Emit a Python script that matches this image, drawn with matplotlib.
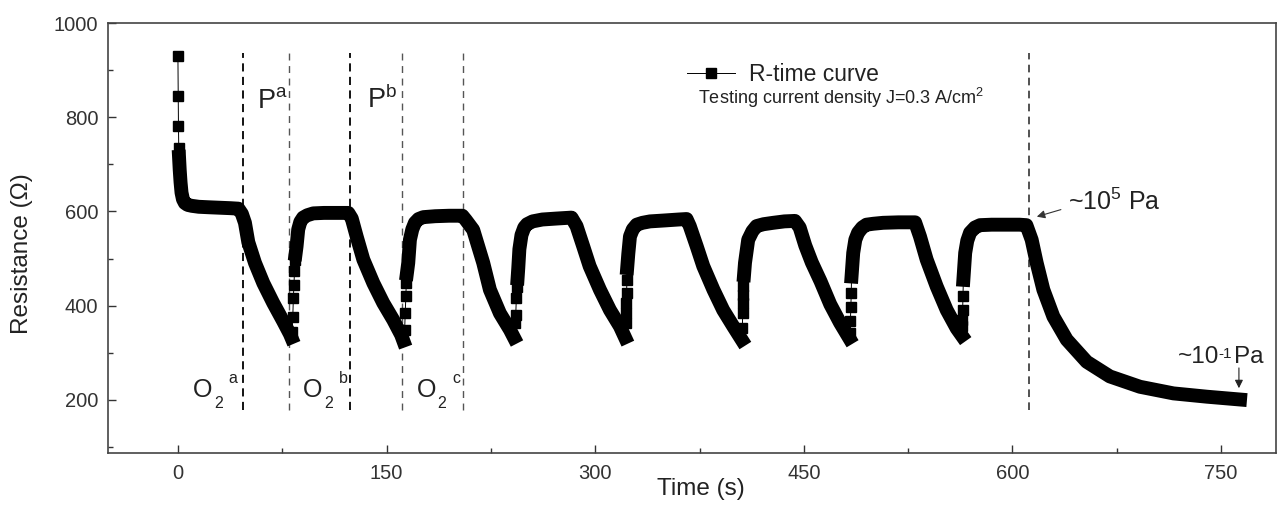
import numpy as np
import matplotlib.pyplot as plt
from matplotlib.ticker import MultipleLocator

plt.rcParams['font.family'] = 'Liberation Sans'
plt.rcParams['mathtext.default'] = 'regular'

# first isolated points right after switching on
start_t = [0.0, 0.2, 0.4, 0.6]
start_r = [930, 845, 782, 735]

# continuous parts of the trace: recovery, plateau and decay of each cycle
band_t = [
    [0.8, 1.3, 1.9, 2.6, 3.6, 5, 7, 10, 15, 22, 30, 38, 43.5,
     46, 48.2, 50.6, 55.4, 61.4, 68.5, 75.7, 80.5, 81.5],
    [84.6, 85.3, 86.5, 88, 90, 93, 97.3, 105, 115, 122.5,
     125, 128.5, 133.3, 140.5, 147.6, 154.8, 160.5, 162],
    [164.6, 165.6, 166.8, 168.5, 170.4, 173, 176.4, 185, 195, 204.5,
     207, 212.3, 219.5, 224.3, 231.5, 238.7, 241.5],
    [244.2, 244.7, 245.5, 247, 249, 251, 255, 262, 272, 283,
     286.6, 291.4, 296, 303.4, 310.6, 317.8, 321.4],
    [323, 323.8, 325, 327, 329.8, 334, 339.4, 350, 360, 365.7,
     368, 373, 377.7, 385, 392, 399.3, 405.3],
    [407, 407.7, 410, 413, 416, 421, 428, 436, 443.6,
     447, 451, 455.7, 462, 469, 476, 482.5],
    [484.3, 485.5, 487, 489, 492, 495, 500, 507, 518, 530,
     533.5, 538.3, 545.5, 552.7, 559.9, 563.5],
    [564.7, 566, 567.5, 569.5, 573, 576.7, 585, 595, 605, 610,
     613.8, 617.4, 622.2, 629.4, 639, 653.4, 670, 691.7, 715.7, 739.7, 763.6],
]
band_r = [
    [716, 688, 662, 640, 626, 618, 614, 612, 610, 609, 608, 607, 606,
     595, 576, 535, 491, 448, 406, 367, 340, 333],
    [510, 526, 562, 578, 587, 592, 596, 597, 597, 597,
     585, 547, 498, 448, 406, 370, 338, 326],
    [468, 491, 540, 562, 576, 584, 588, 590, 591, 591,
     582, 561, 491, 434, 384, 349, 333],
    [458, 480, 520, 550, 566, 573, 579, 583, 585, 587,
     569, 526, 484, 434, 391, 356, 333],
    [480, 510, 547, 562, 572, 576, 579, 581, 583, 584,
     569, 526, 484, 434, 391, 356, 328],
    [465, 491, 540, 558, 569, 573, 576, 579, 580,
     566, 528, 492, 452, 403, 364, 332],
    [462, 512, 540, 555, 566, 572, 574, 576, 577, 577,
     547, 498, 441, 391, 352, 337],
    [455, 512, 538, 555, 566, 571, 572, 572, 572, 571,
     540, 491, 434, 377, 328, 281, 250, 228, 214, 207, 201],
]

# fast jumps when the O2 is switched back
jump_t = [
    [82.2, 82.6, 83.0, 83.4, 83.8, 84.2],
    [163.0, 163.4, 163.8, 164.2],
    [242.5, 242.9, 243.3, 243.7],
    [322.0, 322.2, 322.4, 322.6, 322.8],
    [405.8, 406.0, 406.2, 406.4, 406.6],
    [483.2, 483.5, 483.8, 484.1],
    [563.8, 564.0, 564.2, 564.4],
]
jump_r = [
    [345, 377, 416, 445, 473, 498],
    [349, 384, 420, 448],
    [364, 381, 417, 440],
    [363, 384, 406, 427, 455],
    [352, 384, 406, 423, 441],
    [342, 367, 398, 427],
    [356, 370, 391, 420],
]

# switching times (dashed lines)
bold_lines = [46.7, 123.7]
light_lines = [79.8, 161.0, 205.0]
end_line = 612.0

# O2 stage labels
o2_x = [10.8, 90.0, 171.8]
o2_sup = ['a', 'b', 'c']

# full trace in time order, remembering which points show as single squares
t_all = list(start_t)
r_all = list(start_r)
marked = list(range(len(start_t)))
for i in range(len(band_t)):
    t_all += band_t[i]
    r_all += band_r[i]
    if i < len(jump_t):
        marked += list(range(len(t_all), len(t_all) + len(jump_t[i])))
        t_all += jump_t[i]
        r_all += jump_r[i]

fig = plt.figure(figsize=(12.79, 5.17), dpi=100)
ax = fig.add_axes([0.0844, 0.1238, 0.9133, 0.8317])

for x in bold_lines:
    ax.plot([x, x], [179, 936], color='k', lw=1.3, dashes=(4.5, 3), zorder=1)
for x in light_lines:
    ax.plot([x, x], [179, 936], color='#555555', lw=1.0, dashes=(5, 4), zorder=1)
ax.plot([end_line, end_line], [179, 936], color='#222222', lw=1.1, dashes=(5, 3.5), zorder=1)

ax.plot(t_all, r_all, '-s', color='k', lw=0.7, ms=7, markevery=marked,
        label='R-time curve', zorder=3)
for tb, rb in zip(band_t, band_r):
    ax.plot(tb, rb, color='k', lw=10, solid_joinstyle='round',
            solid_capstyle='projecting', zorder=3)

ax.set_xlim(-50.3, 789.5)
ax.set_ylim(87.5, 1000)
ax.xaxis.set_major_locator(MultipleLocator(150))
ax.xaxis.set_minor_locator(MultipleLocator(75))
ax.yaxis.set_major_locator(MultipleLocator(200))
ax.yaxis.set_minor_locator(MultipleLocator(100))
ax.tick_params(which='both', direction='in', top=False, right=False,
               labelsize=14.5, colors='#333333', width=1.0)
ax.tick_params(which='major', length=6)
ax.tick_params(which='minor', length=3.5)
ax.tick_params(axis='y', pad=7)
ax.tick_params(axis='x', pad=8)
for s in ax.spines.values():
    s.set_linewidth(1.2)
    s.set_color('#444444')

ax.set_xlabel('Time (s)', fontsize=17.5, color='#222222')
ax.set_ylabel('Resistance (Ω)', fontsize=17.5, color='#222222')
ax.xaxis.set_label_coords(0.5077, -0.058)
ax.yaxis.set_label_coords(-0.064, 0.463)

leg = ax.legend(loc='upper left', bbox_to_anchor=(0.4957, 0.906), frameon=False,
                fontsize=16.5, handlelength=2.1, handletextpad=0.6,
                borderpad=0, borderaxespad=0)
for txt in leg.get_texts():
    txt.set_color('#222222')
ax.text(0.505, 0.8116, 'Testing current density J=0.3 A/cm$^2$',
        transform=ax.transAxes, fontsize=13, color='#222222', va='baseline')

ax.text(56.8, 820, 'P$^a$', fontsize=19.5, color='#222222', va='baseline')
ax.text(135.9, 820, 'P$^b$', fontsize=19.5, color='#222222', va='baseline')

for x, s in zip(o2_x, o2_sup):
    ax.text(x, 206, 'O', fontsize=18, color='#222222', va='baseline')
    ax.annotate('2', xy=(x, 206), xytext=(15, -7.5), textcoords='offset points',
                fontsize=11.5, color='#222222', va='baseline')
    ax.annotate(s, xy=(x, 206), xytext=(25.5, 10.5), textcoords='offset points',
                fontsize=11.5, color='#222222', va='baseline')

ax.annotate('', xy=(617.5, 589), xytext=(634.8, 604),
            arrowprops=dict(arrowstyle='-|>', color='#333333', lw=0.8,
                            mutation_scale=12, shrinkA=0, shrinkB=0))
ax.text(640, 603, '~10$^5$ Pa', fontsize=18, color='#222222', va='baseline')

ax.annotate('', xy=(762.8, 225), xytext=(762.8, 268),
            arrowprops=dict(arrowstyle='-|>', color='#222222', lw=0.8,
                            mutation_scale=12, shrinkA=0, shrinkB=0))
low_txt = ax.text(719.1, 278, '~10', fontsize=17.5, color='#222222', va='baseline')
low_sup = ax.annotate('-1', xy=(1, 1), xycoords=low_txt, xytext=(-0.5, -0.5),
                      textcoords='offset points', fontsize=11, color='#222222',
                      ha='left', va='top')
ax.annotate('Pa', xy=(1, 0), xycoords=(low_sup, low_txt), xytext=(1, 0),
            textcoords='offset points', fontsize=17.5, color='#222222',
            ha='left', va='bottom')

fig.savefig('out.png', dpi=100)
plt.close(fig)
